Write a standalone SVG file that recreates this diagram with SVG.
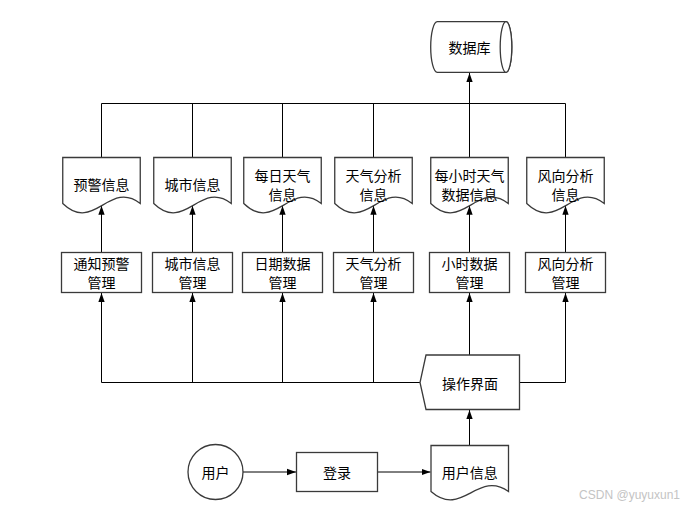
<svg xmlns="http://www.w3.org/2000/svg" width="682" height="509" viewBox="0 0 682 509">
<style>
.shape{fill:#fff;stroke:#3a3a3a;stroke-width:1.3}
.ln{fill:none;stroke:#000;stroke-width:1}
.t{font-family:"Noto Sans CJK SC","Noto Sans",sans-serif;font-size:14px;fill:#000;text-anchor:middle;dominant-baseline:central}
.wm{font-family:"Liberation Sans",Arial,sans-serif;font-size:12px;fill:#c4c4c4;text-anchor:end;dominant-baseline:central}
</style>
<defs>
<marker id="arr" viewBox="0 0 10 10" refX="10" refY="5" markerWidth="9" markerHeight="9" markerUnits="userSpaceOnUse" orient="auto">
<path d="M0,1.5 L10,5 L0,8.5 z" fill="#000"/>
</marker>
</defs>
<rect width="682" height="509" fill="#fff"/>
<g id="connectors">
<path class="ln" d="M101.5,157.5 V103.5 H565.5 V157.5 M192.5,103.5 V157.5 M282.5,103.5 V157.5 M373.5,103.5 V157.5 M469.5,103.5 V157.5"/>
<line class="ln" x1="469.5" y1="103.5" x2="469.5" y2="73" marker-end="url(#arr)"/>
<line class="ln" x1="101.5" y1="252.5" x2="101.5" y2="205.8" marker-end="url(#arr)"/>
<line class="ln" x1="192.5" y1="252.5" x2="192.5" y2="205.8" marker-end="url(#arr)"/>
<line class="ln" x1="282.5" y1="252.5" x2="282.5" y2="205.8" marker-end="url(#arr)"/>
<line class="ln" x1="373.5" y1="252.5" x2="373.5" y2="205.8" marker-end="url(#arr)"/>
<line class="ln" x1="469.5" y1="252.5" x2="469.5" y2="205.8" marker-end="url(#arr)"/>
<line class="ln" x1="565.5" y1="252.5" x2="565.5" y2="205.8" marker-end="url(#arr)"/>
<path class="ln" d="M420,382.5 H101.5 M519.5,382.5 H565.5"/>
<line class="ln" x1="101.5" y1="382.5" x2="101.5" y2="293" marker-end="url(#arr)"/>
<line class="ln" x1="192.5" y1="382.5" x2="192.5" y2="293" marker-end="url(#arr)"/>
<line class="ln" x1="282.5" y1="382.5" x2="282.5" y2="293" marker-end="url(#arr)"/>
<line class="ln" x1="373.5" y1="382.5" x2="373.5" y2="293" marker-end="url(#arr)"/>
<line class="ln" x1="469.5" y1="355" x2="469.5" y2="293" marker-end="url(#arr)"/>
<line class="ln" x1="565.5" y1="382.5" x2="565.5" y2="293" marker-end="url(#arr)"/>
<line class="ln" x1="469.5" y1="445.5" x2="469.5" y2="410" marker-end="url(#arr)"/>
<line class="ln" x1="243" y1="472" x2="296" y2="472" marker-end="url(#arr)"/>
<line class="ln" x1="377.5" y1="472" x2="430.5" y2="472" marker-end="url(#arr)"/>
</g>
<g id="db">
<path class="shape" d="M437.3,21.7 H506 A5.8,25.3 0 0 1 506,72.3 H437.3 A6.6,25.3 0 0 1 437.3,21.7 Z"/>
<ellipse class="shape" cx="506" cy="47" rx="5.8" ry="25.3"/>
<text class="t" x="469.5" y="46.5">数据库</text>
</g>
<g id="doc1">
<path class="shape" d="M62.75,157.5 H140.25 V203.5 C109.25,179.5 93.75,233.5 62.75,203.5 Z"/>
<text class="t" x="101.5" y="183.5">预警信息</text>
</g>
<g id="doc2">
<path class="shape" d="M153.75,157.5 H231.25 V203.5 C200.25,179.5 184.75,233.5 153.75,203.5 Z"/>
<text class="t" x="192.5" y="183.5">城市信息</text>
</g>
<g id="doc3">
<path class="shape" d="M243.75,157.5 H321.25 V203.5 C290.25,179.5 274.75,233.5 243.75,203.5 Z"/>
<text class="t" x="282.5" y="174.5">每日天气</text>
<text class="t" x="282.5" y="193.5">信息</text>
</g>
<g id="doc4">
<path class="shape" d="M334.75,157.5 H412.25 V203.5 C381.25,179.5 365.75,233.5 334.75,203.5 Z"/>
<text class="t" x="373.5" y="174.5">天气分析</text>
<text class="t" x="373.5" y="193.5">信息</text>
</g>
<g id="doc5">
<path class="shape" d="M430.75,157.5 H508.25 V203.5 C477.25,179.5 461.75,233.5 430.75,203.5 Z"/>
<text class="t" x="469.5" y="174.5">每小时天气</text>
<text class="t" x="469.5" y="193.5">数据信息</text>
</g>
<g id="doc6">
<path class="shape" d="M526.75,157.5 H604.25 V203.5 C573.25,179.5 557.75,233.5 526.75,203.5 Z"/>
<text class="t" x="565.5" y="174.5">风向分析</text>
<text class="t" x="565.5" y="193.5">信息</text>
</g>
<g id="box1">
<rect class="shape" x="61.5" y="252.5" width="80" height="40"/>
<text class="t" x="101.5" y="262.5">通知预警</text>
<text class="t" x="101.5" y="281.5">管理</text>
</g>
<g id="box2">
<rect class="shape" x="152.5" y="252.5" width="80" height="40"/>
<text class="t" x="192.5" y="262.5">城市信息</text>
<text class="t" x="192.5" y="281.5">管理</text>
</g>
<g id="box3">
<rect class="shape" x="242.5" y="252.5" width="80" height="40"/>
<text class="t" x="282.5" y="262.5">日期数据</text>
<text class="t" x="282.5" y="281.5">管理</text>
</g>
<g id="box4">
<rect class="shape" x="333.5" y="252.5" width="80" height="40"/>
<text class="t" x="373.5" y="262.5">天气分析</text>
<text class="t" x="373.5" y="281.5">管理</text>
</g>
<g id="box5">
<rect class="shape" x="429.5" y="252.5" width="80" height="40"/>
<text class="t" x="469.5" y="262.5">小时数据</text>
<text class="t" x="469.5" y="281.5">管理</text>
</g>
<g id="box6">
<rect class="shape" x="525.5" y="252.5" width="80" height="40"/>
<text class="t" x="565.5" y="262.5">风向分析</text>
<text class="t" x="565.5" y="281.5">管理</text>
</g>
<g id="ui">
<path class="shape" d="M426,355 H519.5 V409.5 H426 L420,382.5 Z"/>
<text class="t" x="470" y="382.5">操作界面</text>
</g>
<g id="user">
<circle class="shape" cx="215.5" cy="472" r="27.5"/>
<text class="t" x="215.5" y="472">用户</text>
</g>
<g id="login">
<rect class="shape" x="296.5" y="452.5" width="81" height="39"/>
<text class="t" x="337" y="472">登录</text>
</g>
<g id="userinfo">
<path class="shape" d="M431,445.5 H508.5 V491.5 C477.5,469.5 462,518.5 431,491.5 Z"/>
<text class="t" x="469.75" y="471.5">用户信息</text>
</g>
<text class="wm" x="680" y="495">CSDN @yuyuxun1</text>
</svg>
